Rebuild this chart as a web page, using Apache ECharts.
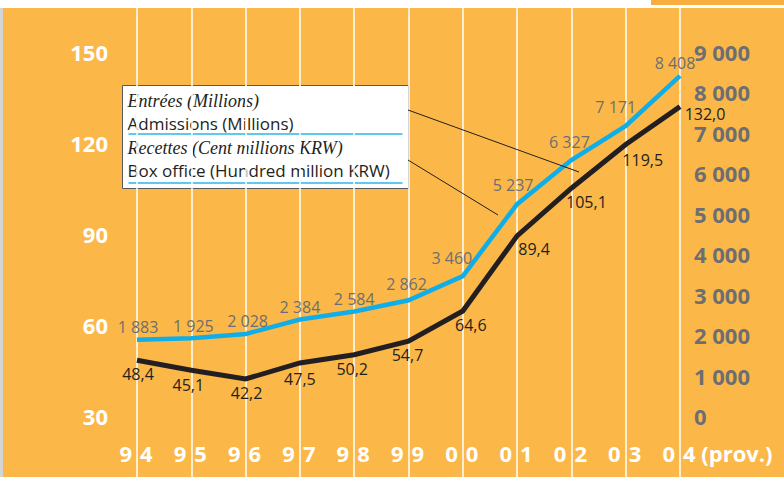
<!DOCTYPE html>
<html>
<head>
<meta charset="utf-8">
<script src="https://cdn.jsdelivr.net/npm/echarts@6/dist/echarts.min.js"></script>
<style>
  html, body { margin: 0; padding: 0; background: #ffffff; }
  #chart { width: 784px; height: 477px; }
</style>
</head>
<body>
<div id="chart"></div>
<script>
// Years (1994 – 2004, last one provisional)
const years = ['94', '95', '96', '97', '98', '99', '00', '01', '02', '03', '04 (prov.)'];
// Admissions, millions
const admissions = [48.4, 45.1, 42.2, 47.5, 50.2, 54.7, 64.6, 89.4, 105.1, 119.5, 132.0];
// Box office, hundred million KRW
const boxOffice = [1883, 1925, 2028, 2384, 2584, 2862, 3460, 5237, 6327, 7171, 8408];
// Axis ticks
const leftTicks = [30, 60, 90, 120, 150];
const rightTicks = [0, 1000, 2000, 3000, 4000, 5000, 6000, 7000, 8000, 9000];

// Label nudges [dx, dy] so value labels sit clear of the steeper segments
const admLabelShift = [[1, 0], [-3, 1], [1, 1], [0, 3], [-2, 1], [-1, 0], [8, 0], [17, 0], [15, 0], [17, 2], [25, -6]];
const boxLabelShift = [[1, 0], [2, 0], [2, 0], [0, 0], [0, 0], [-2, -4], [-11, -6], [-4, -7], [-2, -6], [-10, -6], [-5, 0]];

const ORANGE = '#FBB848';
const GREY = '#6D6E71';
const INK = '#231F20';
const CYAN = '#0FAEE9';
const SANS = '"Open Sans", "Noto Sans", sans-serif';
const SERIF = '"Liberation Serif", "DejaVu Serif", serif';

const fmtThousands = v => String(v).replace(/\B(?=(\d{3})+(?!\d))/g, ' ');
const fmtComma = v => v.toFixed(1).replace('.', ',');

const yearLabel = { color: '#ffffff', fontSize: 22, fontWeight: 'bold', fontFamily: SANS, interval: 0, margin: 26 };

const chart = echarts.init(document.getElementById('chart'), null, { renderer: 'svg' });

chart.setOption({
  backgroundColor: ORANGE,
  animation: false,
  grid: [
    { left: 137, right: 104, top: 52, bottom: 61 },
    // full-height band that carries the white year rules
    { left: 137, right: 104, top: 8, bottom: 0 }
  ],
  xAxis: [
    {
      // first digit of each year, ending just left of its rule
      type: 'category', gridIndex: 0, data: years, boundaryGap: false,
      axisLine: { show: false }, axisTick: { show: false }, splitLine: { show: false },
      axisLabel: Object.assign({}, yearLabel, {
        align: 'right', padding: [0, 5, 0, 0],
        formatter: v => v.charAt(0)
      })
    },
    {
      // rest of each year, starting just right of its rule
      type: 'category', gridIndex: 0, data: years, boundaryGap: false, position: 'bottom',
      axisLine: { show: false }, axisTick: { show: false }, splitLine: { show: false },
      axisLabel: Object.assign({}, yearLabel, {
        align: 'left', padding: [0, 0, 0, 3],
        formatter: v => v.slice(1)
      })
    },
    {
      type: 'category', gridIndex: 1, data: years, boundaryGap: false,
      axisLine: { show: false }, axisTick: { show: false }, axisLabel: { show: false },
      splitLine: { show: true, interval: 0, lineStyle: { color: '#ffffff', width: 1.5 } }
    }
  ],
  yAxis: [
    {
      type: 'value', gridIndex: 0, position: 'left', min: leftTicks[0], max: leftTicks[leftTicks.length - 1],
      interval: leftTicks[1] - leftTicks[0],
      axisLine: { show: false }, axisTick: { show: false }, splitLine: { show: false },
      axisLabel: { margin: 29, color: '#ffffff', fontSize: 22, fontWeight: 'bold', fontFamily: SANS, lineHeight: 16 }
    },
    {
      type: 'value', gridIndex: 0, position: 'right', min: rightTicks[0], max: rightTicks[rightTicks.length - 1],
      interval: rightTicks[1] - rightTicks[0],
      axisLine: { show: false }, axisTick: { show: false }, splitLine: { show: false },
      axisLabel: { margin: 14, color: GREY, fontSize: 22, fontWeight: 'bold', fontFamily: SANS, lineHeight: 16, formatter: fmtThousands }
    },
    { type: 'value', gridIndex: 1, show: false }
  ],
  series: [
    {
      name: 'Box office', type: 'line', xAxisIndex: 0, yAxisIndex: 1,
      data: boxOffice.map((v, i) => ({
        value: v,
        label: { show: true, offset: boxLabelShift[i] }
      })),
      symbol: 'circle', symbolSize: 0, showSymbol: true,
      itemStyle: { color: 'transparent' },
      lineStyle: { color: CYAN, width: 4.5, join: 'miter' },
      label: {
        show: true, position: 'top', distance: 6, lineHeight: 13,
        color: GREY, fontSize: 16, fontFamily: SANS,
        formatter: p => fmtThousands(p.value)
      },
      z: 3
    },
    {
      name: 'Admissions', type: 'line', xAxisIndex: 0, yAxisIndex: 0,
      data: admissions.map((v, i) => ({
        value: v,
        label: { show: true, offset: admLabelShift[i] }
      })),
      symbol: 'circle', symbolSize: 0, showSymbol: true,
      itemStyle: { color: 'transparent' },
      lineStyle: { color: INK, width: 5, join: 'miter' },
      label: {
        show: true, position: 'bottom', distance: 7, lineHeight: 13,
        color: INK, fontSize: 16, fontFamily: SANS,
        formatter: p => fmtComma(p.value)
      },
      z: 3
    }
  ],
  graphic: [
    // page edges
    { type: 'rect', left: 0, top: 0, shape: { width: 784, height: 8 }, style: { fill: '#ffffff' }, z: 1 },
    { type: 'rect', left: 651, top: 0, shape: { width: 133, height: 5 }, style: { fill: '#F9AE3F' }, z: 2 },
    { type: 'rect', left: 0, top: 8, shape: { width: 3, height: 469 }, style: { fill: '#D4D4D4' }, z: 1 },
    // leader lines
    { type: 'line', shape: { x1: 408, y1: 110, x2: 579, y2: 172 }, style: { stroke: INK, lineWidth: 1 }, z: 20 },
    { type: 'line', shape: { x1: 408, y1: 160, x2: 498, y2: 215 }, style: { stroke: INK, lineWidth: 1 }, z: 20 },
    // key box
    {
      type: 'group', left: 122, top: 85, z: 30,
      children: [
        { type: 'rect', shape: { x: 0, y: 0, width: 286, height: 103 }, style: { fill: '#ffffff', stroke: '#58595B', lineWidth: 1 } },
        { type: 'text', x: 5, y: 15, style: { text: 'Entrées (Millions)', font: 'italic 18px ' + SERIF, fill: INK, verticalAlign: 'middle' } },
        { type: 'text', x: 5, y: 38, style: { text: 'Admissions (Millions)', font: '17px ' + SANS, fill: INK, verticalAlign: 'middle' } },
        { type: 'line', shape: { x1: 6, y1: 48.5, x2: 280, y2: 48.5 }, style: { stroke: '#29B6E8', lineWidth: 1.5 } },
        { type: 'text', x: 5, y: 62, style: { text: 'Recettes (Cent millions KRW)', font: 'italic 18px ' + SERIF, fill: INK, verticalAlign: 'middle' } },
        { type: 'text', x: 5, y: 85, style: { text: 'Box office (Hundred million KRW)', font: '17px ' + SANS, fill: INK, verticalAlign: 'middle' } },
        { type: 'line', shape: { x1: 6, y1: 97.5, x2: 280, y2: 97.5 }, style: { stroke: '#29B6E8', lineWidth: 1.5 } }
      ]
    }
  ]
});
</script>
</body>
</html>
